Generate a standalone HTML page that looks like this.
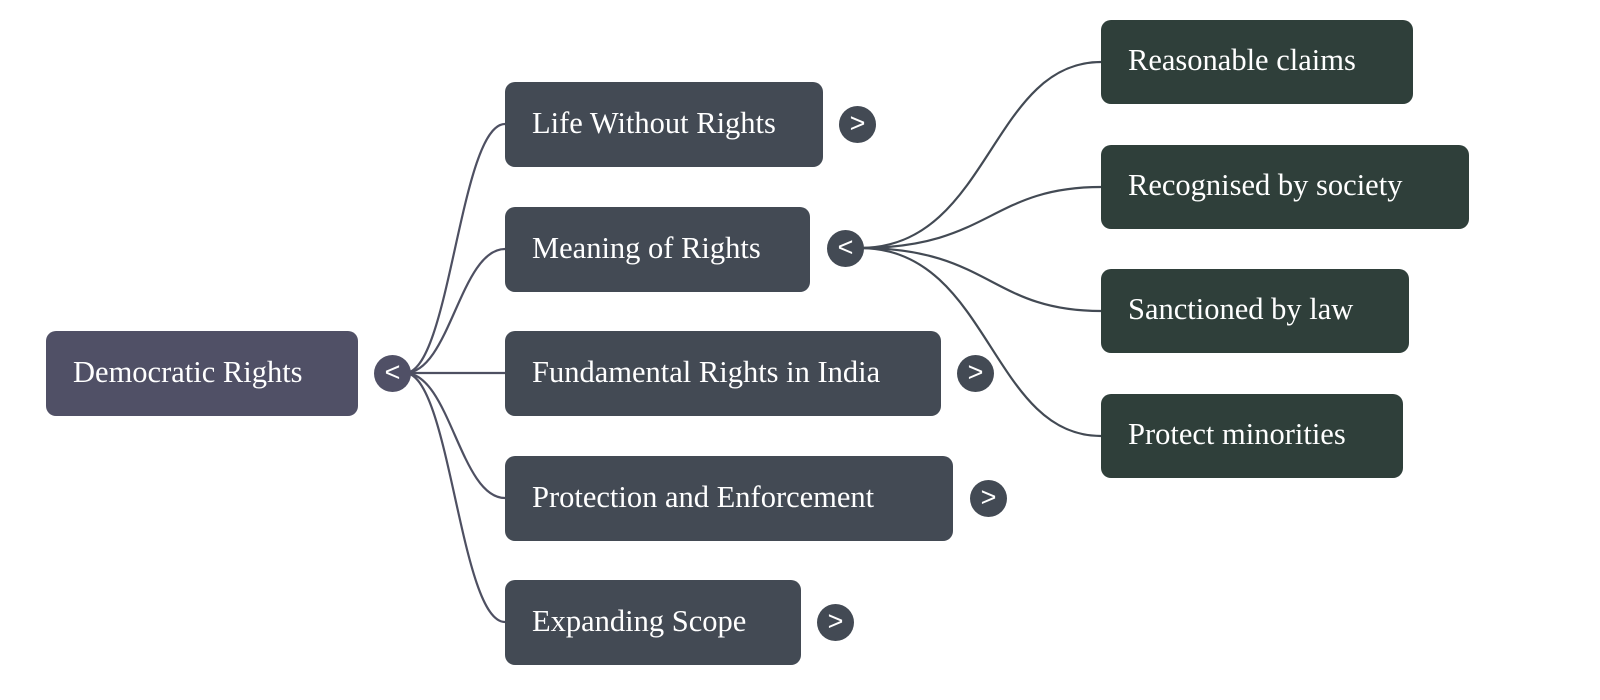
<!DOCTYPE html>
<html><head><style>
body{margin:0;width:1600px;height:700px;background:#fff;position:relative;overflow:hidden;font-family:"Liberation Serif",serif}
.b{position:absolute;border-radius:10px;color:#fff;font-size:30.5px;line-height:82px;padding-left:27px;box-sizing:border-box;height:85px;white-space:nowrap}
.r{background:#505066}.l{background:#434a54}.m{background:#2f3f3a;height:84px;line-height:80px}
.c{position:absolute;width:37px;height:37px;border-radius:50%;background:#434a54;color:#fff;font-family:"Liberation Sans",sans-serif;font-size:27px;text-align:center;line-height:35px}
</style></head><body>
<svg width="1600" height="700" style="position:absolute;left:0;top:0">
<g fill="none" stroke="#4e5062" stroke-width="2.2">
<path d="M405 373 C 450 373, 460 124, 505 124"/>
<path d="M405 373 C 450 373, 460 249, 505 249"/>
<path d="M405 373 L 505 373"/>
<path d="M405 373 C 450 373, 460 498, 505 498"/>
<path d="M405 373 C 450 373, 460 622, 505 622"/>
</g>
<g fill="none" stroke="#434a54" stroke-width="2.2">
<path d="M860 248 C 990 248, 990 62, 1101 62"/>
<path d="M860 248 C 990 248, 990 187, 1101 187"/>
<path d="M860 248 C 990 248, 990 311, 1101 311"/>
<path d="M860 248 C 990 248, 990 436, 1101 436"/>
</g>
</svg>
<div class="b r" style="left:46px;top:331px;width:312px">Democratic Rights</div>
<div class="c" style="left:374px;top:355px;background:#505066">&lt;</div>
<div class="b l" style="left:505px;top:82px;width:318px">Life Without Rights</div>
<div class="b l" style="left:505px;top:207px;width:305px">Meaning of Rights</div>
<div class="b l" style="left:505px;top:331px;width:436px">Fundamental Rights in India</div>
<div class="b l" style="left:505px;top:456px;width:448px">Protection and Enforcement</div>
<div class="b l" style="left:505px;top:580px;width:296px">Expanding Scope</div>
<div class="c" style="left:839px;top:106px">&gt;</div>
<div class="c" style="left:827px;top:230px">&lt;</div>
<div class="c" style="left:957px;top:355px">&gt;</div>
<div class="c" style="left:970px;top:480px">&gt;</div>
<div class="c" style="left:817px;top:604px">&gt;</div>
<div class="b m" style="left:1101px;top:20px;width:312px">Reasonable claims</div>
<div class="b m" style="left:1101px;top:145px;width:368px">Recognised by society</div>
<div class="b m" style="left:1101px;top:269px;width:308px">Sanctioned by law</div>
<div class="b m" style="left:1101px;top:394px;width:302px">Protect minorities</div>
</body></html>
